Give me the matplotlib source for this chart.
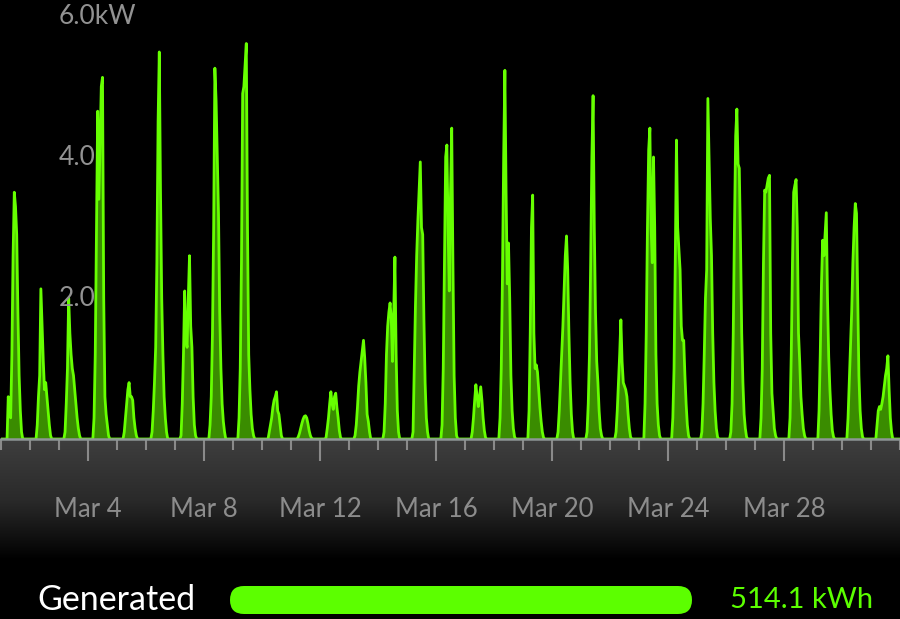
import numpy as np
import pandas as pd
import matplotlib
matplotlib.use('Agg')
import matplotlib.pyplot as plt
import matplotlib.dates as mdates
from matplotlib.patches import FancyBboxPatch

plt.rcParams['font.family'] = ['Lato', 'DejaVu Sans']

# output in kW for each day of March, hourly from 4:00 to 18:00
hours = list(range(4, 19))
mar01 = [0, 0, 0.6, 0.4, 0.3, 1.2, 2.6, 3.5, 3.3, 2.9, 1.8, 0.9, 0.4, 0.1, 0]
mar02 = [0, 0, 0.2, 0.6, 0.9, 2.13, 1.6, 1.1, 0.7, 0.8, 0.6, 0.4, 0.2, 0.05, 0]
mar03 = [0, 0.1, 0.5, 1.0, 2.0, 1.5, 1.2, 1.0, 0.9, 0.7, 0.5, 0.3, 0.15, 0.05, 0]
mar04 = [0, 0.3, 1.2, 3.0, 4.65, 3.4, 4.2, 5.0, 5.13, 2.0, 0.6, 0.35, 0.2, 0.05, 0]
mar05 = [0, 0, 0.1, 0.3, 0.5, 0.7, 0.8, 0.6, 0.6, 0.55, 0.3, 0.15, 0.05, 0, 0]
mar06 = [0, 0.1, 0.4, 0.8, 1.3, 2.5, 4.5, 5.49, 3.5, 2.0, 1.2, 0.6, 0.3, 0.1, 0]
mar07 = [0, 0.05, 0.5, 1.2, 2.1, 1.4, 1.3, 2.0, 2.6, 1.6, 1.3, 0.6, 0.2, 0.05, 0]
mar08 = [0, 0.2, 0.6, 1.5, 3.0, 5.26, 4.8, 4.0, 3.2, 1.8, 1.0, 0.5, 0.25, 0.1, 0]
mar09 = [0, 0.3, 1.0, 2.5, 4.9, 5.0, 5.3, 5.61, 3.0, 1.2, 0.7, 0.35, 0.15, 0.05, 0]
mar10 = [0, 0, 0.1, 0.2, 0.3, 0.45, 0.55, 0.6, 0.67, 0.4, 0.35, 0.2, 0.05, 0, 0]
mar11 = [0, 0, 0.03, 0.08, 0.15, 0.22, 0.28, 0.32, 0.33, 0.3, 0.22, 0.12, 0.05, 0.01, 0]
mar12 = [0, 0.02, 0.15, 0.3, 0.5, 0.67, 0.5, 0.42, 0.6, 0.65, 0.45, 0.3, 0.12, 0.02, 0]
mar13 = [0, 0.05, 0.2, 0.45, 0.75, 0.95, 1.1, 1.25, 1.4, 1.15, 0.8, 0.35, 0.25, 0.1, 0]
mar14 = [0, 0.1, 0.5, 1.2, 1.6, 1.8, 1.93, 1.7, 1.1, 1.8, 2.58, 1.2, 0.4, 0.1, 0]
mar15 = [0, 0.1, 1.0, 1.9, 2.6, 3.1, 3.5, 3.93, 3.0, 2.9, 1.7, 0.8, 0.3, 0.1, 0]
mar16 = [0, 0.2, 1.0, 2.5, 4.0, 4.17, 3.0, 2.1, 3.5, 4.41, 2.5, 0.9, 0.3, 0.05, 0]
mar17 = [0, 0, 0.1, 0.3, 0.55, 0.77, 0.6, 0.46, 0.6, 0.74, 0.55, 0.3, 0.12, 0.02, 0]
mar18 = [0, 0.3, 1.0, 2.3, 4.0, 5.23, 3.5, 2.2, 2.78, 2.0, 0.9, 0.4, 0.15, 0.03, 0]
mar19 = [0, 0.4, 1.5, 3.0, 3.46, 1.5, 1.0, 1.05, 0.95, 0.7, 0.45, 0.25, 0.1, 0.02, 0]
mar20 = [0, 0.1, 0.4, 0.8, 1.2, 1.6, 2.1, 2.6, 2.88, 2.4, 1.5, 0.8, 0.35, 0.1, 0]
mar21 = [0, 0.1, 0.5, 1.2, 2.5, 4.0, 4.87, 3.0, 1.8, 1.1, 0.8, 0.4, 0.15, 0.05, 0]
mar22 = [0, 0.1, 0.4, 0.8, 1.2, 1.69, 1.1, 0.8, 0.75, 0.7, 0.6, 0.35, 0.15, 0.03, 0]
mar23 = [0, 0.5, 1.5, 3.0, 4.1, 4.41, 3.0, 2.5, 4.0, 3.0, 1.2, 0.5, 0.2, 0.05, 0]
mar24 = [0.3, 1.0, 2.5, 4.24, 3.0, 2.7, 2.4, 1.6, 1.4, 1.4, 0.9, 0.5, 0.2, 0.05, 0]
mar25 = [0.1, 0.5, 1.2, 2.0, 2.4, 4.83, 4.0, 3.13, 2.6, 1.5, 0.8, 0.4, 0.15, 0.03, 0]
mar26 = [0.1, 0.5, 1.5, 3.0, 4.3, 4.68, 3.9, 3.84, 2.8, 1.5, 0.8, 0.35, 0.15, 0.03, 0]
mar27 = [0, 0.3, 1.0, 2.5, 3.53, 3.5, 3.6, 3.7, 3.74, 1.5, 0.65, 0.4, 0.15, 0.05, 0]
mar28 = [0, 0.3, 1.2, 2.5, 3.5, 3.6, 3.68, 3.0, 1.5, 1.1, 0.6, 0.35, 0.15, 0.05, 0]
mar29 = [0, 0.4, 1.2, 2.2, 2.82, 2.6, 2.9, 3.21, 2.0, 1.17, 0.7, 0.35, 0.12, 0.03, 0]
mar30 = [0, 0.3, 0.8, 1.3, 1.8, 2.5, 3.0, 3.34, 3.2, 2.0, 0.9, 0.4, 0.15, 0.03, 0]
mar31 = [0, 0.2, 0.4, 0.46, 0.42, 0.5, 0.6, 0.75, 0.9, 1.0, 1.18, 0.7, 0.3, 0.1, 0]

days = [mar01, mar02, mar03, mar04, mar05, mar06, mar07, mar08, mar09, mar10,
        mar11, mar12, mar13, mar14, mar15, mar16, mar17, mar18, mar19, mar20,
        mar21, mar22, mar23, mar24, mar25, mar26, mar27, mar28, mar29, mar30,
        mar31]

label_days = [4, 8, 12, 16, 20, 24, 28]
ytick_vals = [2, 4, 6]
ytick_labels = ['2.0', '4.0', '6.0kW']
total_kwh = 514.1

# build the hourly series
idx = pd.date_range('2013-03-01', '2013-04-01', freq='h')
power = pd.Series(0.0, index=idx)
for d, vals in enumerate(days, start=1):
    t0 = pd.Timestamp(2013, 3, d, hours[0])
    t1 = pd.Timestamp(2013, 3, d, hours[-1])
    power.loc[t0:t1] = vals

W, H = 900, 619
fig = plt.figure(figsize=(W / 100, H / 100), dpi=100, facecolor='black')

# grey band behind the date axis
band = fig.add_axes([0, (H - 560) / H, 1, (560 - 440) / H], zorder=0)
grad = np.linspace(0, 1, 256).reshape(-1, 1)
band.imshow(grad, aspect='auto', cmap=matplotlib.colors.LinearSegmentedColormap.from_list(
    'band', ['#3e3e3e', '#2a2a2a', '#000000']), extent=[0, 1, 0, 1])
band.axis('off')

ax = fig.add_axes([1 / W, (H - 439) / H, 899 / W, 439 / H], zorder=1)
ax.set_facecolor('black')
ax.fill_between(power.index, power.values, color='#3a8c00', lw=0)
ax.plot(power.index, power.values, color='#66ff00', lw=2.0)

ax.set_xlim(idx[0], idx[-1])
ax.set_ylim(0, 439 / 70.5)

for s in ['top', 'left', 'right']:
    ax.spines[s].set_visible(False)
ax.spines['bottom'].set_color('#8e9696')
ax.spines['bottom'].set_linewidth(1.8)

ax.xaxis.set_major_locator(mdates.DayLocator(bymonthday=label_days))
ax.xaxis.set_minor_locator(mdates.DayLocator())
ax.xaxis.set_major_formatter(matplotlib.ticker.FuncFormatter(
    lambda v, p: 'Mar %d' % mdates.num2date(v).day))
ax.tick_params(axis='x', which='major', length=16, width=1.5, color='#8a8a8a',
               labelcolor='#8c8c8c', labelsize=18.5, pad=26)
ax.tick_params(axis='x', which='minor', length=8, width=1.5, color='#8a8a8a')
ax.set_yticks([])

ytr = ax.get_yaxis_transform()
for v, lab in zip(ytick_vals, ytick_labels):
    ax.text(58 / 899, v, lab, transform=ytr, color='#929292', fontsize=19,
            ha='left', va='center')

# footer
foot = fig.add_axes([0, 0, 1, 1], zorder=2)
foot.set_xlim(0, W)
foot.set_ylim(H, 0)
foot.axis('off')
foot.add_patch(FancyBboxPatch((230, 586), 462, 28,
                              boxstyle='round,pad=0,rounding_size=14',
                              fc='#5cff00', ec='none'))
foot.text(37, 600, 'Generated', color='white', fontsize=24.5, ha='left', va='center')
foot.text(873, 600, '%.1f kWh' % total_kwh, color='#5cff00', fontsize=21,
          ha='right', va='center')

fig.savefig('out.png', dpi=100, facecolor='black')
